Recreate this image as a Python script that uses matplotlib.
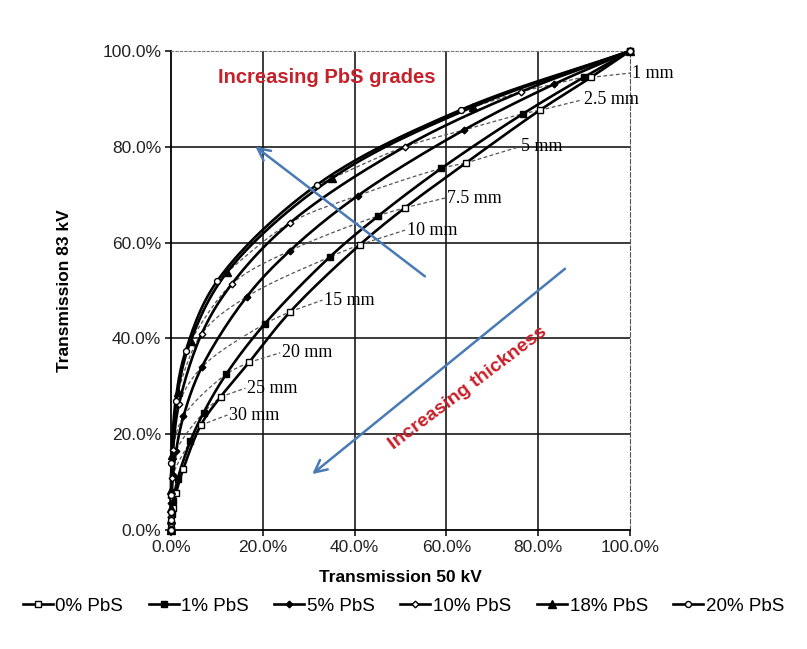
import matplotlib
matplotlib.use("Agg")
import numpy as np
import matplotlib.pyplot as plt
from matplotlib.lines import Line2D
from matplotlib.ticker import FuncFormatter

# ---------------- data (percent) ----------------
series_names = ["0% PbS", "1% PbS", "5% PbS", "10% PbS", "18% PbS", "20% PbS"]
thickness_mm = [0, 1, 2.5, 5, 7.5, 10, 15, 20, 25, 30, 40, 50, 60]

t50_0 = [100, 91.5, 80.3, 64.2, 51.0, 41.2, 26.0, 17.0, 10.8, 6.5, 2.7, 1.1, 0.45]
t83_0 = [100, 94.5, 87.6, 76.6, 67.3, 59.6, 45.6, 35.0, 27.8, 21.9, 12.8, 7.7, 4.6]

t50_1 = [100, 89.9, 76.7, 58.9, 45.2, 34.6, 20.4, 12.0, 7.1, 4.2, 1.44, 0.50, 0.17]
t83_1 = [100, 94.5, 86.9, 75.5, 65.6, 57.0, 43.0, 32.5, 24.5, 18.5, 10.6, 6.0, 3.4]

t50_5 = [100, 83.5, 63.8, 40.7, 25.9, 16.5, 6.7, 2.7, 1.1, 0.45, 0.07, 0.01, 0.002]
t83_5 = [100, 93.1, 83.5, 69.8, 58.3, 48.7, 34.0, 23.7, 16.5, 11.5, 5.6, 2.7, 1.3]

t50_10 = [100, 76.3, 50.9, 25.9, 13.2, 6.7, 1.74, 0.45, 0.12, 0.03, 0.002, 0.0, 0.0]
t83_10 = [100, 91.5, 80.0, 64.1, 51.3, 41.0, 26.3, 16.8, 10.8, 6.9, 2.8, 1.2, 0.5]

t50_18 = [100, 65.7, 35.0, 12.2, 4.3, 1.5, 0.18, 0.02, 0.003, 0.0, 0.0, 0.0, 0.0]
t83_18 = [100, 88.3, 73.4, 53.8, 39.5, 28.9, 15.6, 8.4, 4.5, 2.4, 0.7, 0.2, 0.1]

t50_20 = [100, 63.1, 31.7, 10.0, 3.2, 1.0, 0.1, 0.01, 0.0, 0.0, 0.0, 0.0, 0.0]
t83_20 = [100, 87.7, 72.0, 51.9, 37.4, 27.0, 14.0, 7.3, 3.8, 2.0, 0.6, 0.2, 0.05]

labelled_thickness = [1, 2.5, 5, 7.5, 10, 15, 20, 25, 30]
thickness_labels = ["1 mm", "2.5 mm", "5 mm", "7.5 mm", "10 mm", "15 mm", "20 mm", "25 mm", "30 mm"]
x_ticks = [0, 20, 40, 60, 80, 100]
y_ticks = [0, 20, 40, 60, 80, 100]

# ---------------- layout / style ----------------
label_pos = [(100.5, 95.4), (90.0, 89.8), (76.3, 80.0), (60.1, 69.3), (51.4, 62.6),
             (33.4, 48.0), (24.2, 37.0), (16.6, 29.6), (12.7, 24.0)]
styles = [
    dict(marker="s", mfc="white", ms=4.8),
    dict(marker="s", mfc="black", ms=4.3),
    dict(marker="D", mfc="black", ms=3.4),
    dict(marker="D", mfc="white", ms=3.4),
    dict(marker="^", mfc="black", ms=5.2),
    dict(marker="o", mfc="white", ms=4.3),
]

T50 = [t50_0, t50_1, t50_5, t50_10, t50_18, t50_20]
T83 = [t83_0, t83_1, t83_5, t83_10, t83_18, t83_20]


def smooth(xs, ys, n=14, alpha=0.5):
    """Centripetal Catmull-Rom curve through the points (like a smoothed line)."""
    pts = []
    for x, y in zip(xs, ys):
        if not pts or abs(pts[-1][0] - x) + abs(pts[-1][1] - y) > 1e-6:
            pts.append((x, y))
    P = np.array(pts, dtype=float)
    if len(P) < 3:
        return P[:, 0], P[:, 1]
    P = np.vstack([2 * P[0] - P[1], P, 2 * P[-1] - P[-2]])
    out = []
    for i in range(1, len(P) - 2):
        p0, p1, p2, p3 = P[i - 1], P[i], P[i + 1], P[i + 2]
        t0 = 0.0
        t1 = t0 + np.linalg.norm(p1 - p0) ** alpha
        t2 = t1 + np.linalg.norm(p2 - p1) ** alpha
        t3 = t2 + np.linalg.norm(p3 - p2) ** alpha
        t = np.linspace(t1, t2, n)[:, None]
        A1 = (t1 - t) / (t1 - t0) * p0 + (t - t0) / (t1 - t0) * p1
        A2 = (t2 - t) / (t2 - t1) * p1 + (t - t1) / (t2 - t1) * p2
        A3 = (t3 - t) / (t3 - t2) * p2 + (t - t2) / (t3 - t2) * p3
        B1 = (t2 - t) / (t2 - t0) * A1 + (t - t0) / (t2 - t0) * A2
        B2 = (t3 - t) / (t3 - t1) * A2 + (t - t1) / (t3 - t1) * A3
        C = (t2 - t) / (t2 - t1) * B1 + (t - t1) / (t2 - t1) * B2
        out.append(C if i == 1 else C[1:])
    C = np.vstack(out)
    return np.clip(C[:, 0], 0, 100), np.clip(C[:, 1], 0, 100)


fig = plt.figure(figsize=(8.07, 6.49), dpi=100)
fig.patch.set_facecolor("white")
ax = fig.add_axes([171 / 807, 119 / 649, 459 / 807, 479 / 649])
ax.set_xlim(0, 100)
ax.set_ylim(0, 100)

# grid
for v in [20, 40, 60, 80]:
    ax.axhline(v, color="#1a1a1a", lw=1.2, zorder=1)
    ax.axvline(v, color="#1a1a1a", lw=1.2, zorder=1)

ax.spines["top"].set_linestyle((0, (2, 2)))
ax.spines["top"].set_color("#777777")
ax.spines["right"].set_linestyle((0, (4, 2)))
ax.spines["right"].set_color("#555555")
ax.spines["left"].set_linewidth(1.3)
ax.spines["bottom"].set_linewidth(1.3)

# iso-thickness dashed lines
for t, lab, (lx, ly) in zip(labelled_thickness, thickness_labels, label_pos):
    i = thickness_mm.index(t)
    xs = [T50[s][i] for s in reversed(range(len(T50)))]
    ys = [T83[s][i] for s in reversed(range(len(T83)))]
    sx, sy = smooth(xs, ys, n=8)
    ax.plot(sx, sy, color="#555555", lw=0.9, ls=(0, (3, 2)), zorder=2, clip_on=False)
    ax.plot([xs[-1], lx - 0.4], [ys[-1], ly], color="#555555", lw=0.9,
            ls=(0, (3, 2)), zorder=2, clip_on=False)
    ax.text(lx, ly, lab, ha="left", va="center", fontsize=13,
            family="Liberation Serif", color="black", zorder=5, clip_on=False)

handles = []
for name, xs, ys, st in zip(series_names, T50, T83, styles):
    sx, sy = smooth(xs, ys)
    ax.plot(sx, sy, color="black", lw=1.9, zorder=3, clip_on=False, solid_capstyle="round")
    ax.plot(xs, ys, ls="none", mec="black", mew=1.0, zorder=4, clip_on=False, **st)
    handles.append(Line2D([], [], color="black", lw=1.9, mec="black", mew=1.0, **st))

fmt = FuncFormatter(lambda v, p: f"{v:.1f}%")
ax.set_xticks(x_ticks)
ax.set_yticks(y_ticks)
ax.xaxis.set_major_formatter(fmt)
ax.yaxis.set_major_formatter(fmt)
ax.tick_params(direction="out", length=4, width=1.1, labelsize=12.5, pad=3)
for lbl in ax.get_xticklabels() + ax.get_yticklabels():
    lbl.set_family("Liberation Sans")
    lbl.set_color("#222222")

ax.set_xlabel("Transmission 50 kV", fontsize=12.5, fontweight="bold", family="Liberation Sans")
ax.set_ylabel("Transmission 83 kV", fontsize=12.5, fontweight="bold", family="Liberation Sans")
ax.xaxis.set_label_coords(0.5, -0.083)
ax.yaxis.set_label_coords(-0.215, 0.5)

# annotations
red = "#c8202a"
blue = "#4a7ab5"
ax.annotate("", xy=(17.9, 80.4), xytext=(55.8, 52.6),
            arrowprops=dict(arrowstyle="->", lw=1.8, color=blue, mutation_scale=22), zorder=6)
ax.annotate("", xy=(30.3, 11.3), xytext=(86.3, 54.9),
            arrowprops=dict(arrowstyle="->", lw=1.8, color=blue, mutation_scale=22), zorder=6)
ax.text(34.0, 94.4, "Increasing PbS grades", color=red, fontsize=14.5, fontweight="bold",
        family="Liberation Sans", ha="center", va="center", zorder=7)
ax.text(64.7, 29.6, "Increasing thickness", color=red, fontsize=14, fontweight="bold",
        family="Liberation Sans", ha="center", va="center", rotation=37, zorder=7)

leg = fig.legend(handles, series_names, loc="center", bbox_to_anchor=(0.5, 1 - 606 / 649),
                 ncol=6, frameon=False, numpoints=1, handlelength=1.6, handletextpad=0.15,
                 columnspacing=1.35, prop={"family": "Liberation Sans", "size": 13.5})

fig.savefig("out.png", dpi=100, facecolor="white")
